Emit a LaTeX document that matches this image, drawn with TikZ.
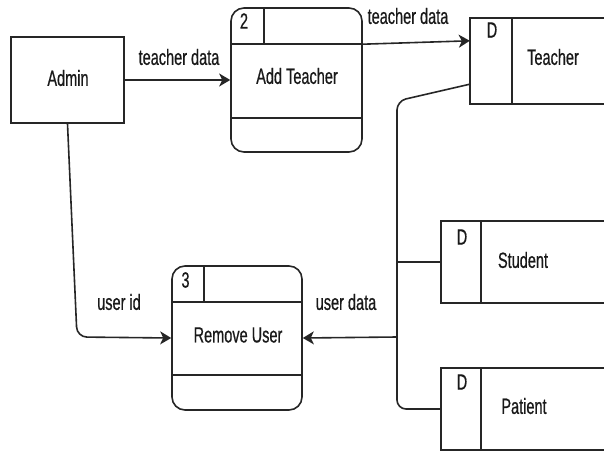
\documentclass[tikz,border=0pt]{standalone}
\usepackage{fontspec}
\setmainfont{Liberation Sans}[FakeStretch=0.66, FakeBold=0.6]
\usetikzlibrary{arrows.meta,calc}

\tikzset{
  every node/.style={font=\fontsize{22}{26}\selectfont, text=black!90},
  line/.style={line width=1.6pt, draw=black!85},
  entity/.style={line, draw, rectangle, minimum width=113pt, minimum height=86pt, inner sep=0pt},
  process/.style={line, draw, rectangle, rounded corners=13pt, minimum width=131pt, minimum height=144pt, inner sep=0pt},
  store/.style={rectangle, draw=none, minimum height=84pt, inner sep=0pt},
  flow/.style={line, -{Stealth[length=11pt, width=13pt, inset=3pt]}},
  link/.style={line},
  lbl/.style={inner sep=0pt, anchor=center}
}

\begin{document}
\begin{tikzpicture}[x=1pt, y=-1pt]
  \useasboundingbox (0,0) rectangle (604,454);

  % external entity
  \node[entity] (admin) at (67.5,80) {};
  \node[lbl] (admintxt) at (68,78) {Admin};

  % process 2: add teacher
  \node[process] (addt) at (296.5,80) {};
  \draw[line] ($(addt.north west)+(0,37)$) -- ($(addt.north east)+(0,37)$);
  \draw[line] ($(addt.south west)+(0,-35)$) -- ($(addt.south east)+(0,-35)$);
  \draw[line] ($(addt.north west)+(34,0)$) -- ($(addt.north west)+(34,37)$);
  \node[lbl] (addtnum) at (244,21) {2};
  \node[lbl] (addttxt) at (297,76) {Add Teacher};

  % process 3: remove user
  \node[process, minimum width=130pt] (remove) at (237,338) {};
  \draw[line] ($(remove.north west)+(0,37)$) -- ($(remove.north east)+(0,37)$);
  \draw[line] ($(remove.south west)+(0,-36)$) -- ($(remove.south east)+(0,-36)$);
  \draw[line] ($(remove.north west)+(33,0)$) -- ($(remove.north west)+(33,37)$);
  \node[lbl] (removenum) at (185.5,280) {3};
  \node[lbl] (removetxt) at (238,335) {Remove User};

  % data stores (open on the right)
  \node[store, minimum width=134pt, minimum height=86pt] (teacher) at (537,61) {};
  \node[store, minimum width=163pt, minimum height=82pt] (student) at (522.5,262) {};
  \node[store, minimum width=163pt, minimum height=82pt] (patient) at (522.5,409) {};
  \foreach \s/\d in {teacher/42, student/40, patient/40} {
    \draw[line] (\s.north east) -- (\s.north west) -- (\s.south west) -- (\s.south east);
    \draw[line] ($(\s.north west)+(\d,0)$) -- ($(\s.south west)+(\d,0)$);
  }
  \node[lbl] (teacherd) at (492,30) {D};
  \node[lbl] (teachertxt) at (553,57) {Teacher};
  \node[lbl] (studentd) at (462,237) {D};
  \node[lbl] (studenttxt) at (523,260) {Student};
  \node[lbl] (patientd) at (462,382) {D};
  \node[lbl] (patienttxt) at (524,406) {Patient};

  % data flows
  \draw[flow] (admin.east) -- (addt.west);
  \node[lbl] (f1) at (179,57) {teacher data};

  \draw[flow] ($(addt.north east)+(0,37)$) -- ($(teacher.north west)+(0,23)$);
  \node[lbl] (f2) at (408,16) {teacher data};

  \coordinate (tout) at ($(teacher.south west)+(0,-20)$);
  \coordinate (bus) at (397,101);
  \coordinate (busend) at (397,409);
  \coordinate (busstudent) at (397,262);
  \coordinate (busremove) at (397,337);
  \draw[link, rounded corners=9pt] (tout) -- (bus) -- (busend) -- (patient.west);
  \draw[link] (busstudent) -- (student.west);
  \draw[flow] (busremove) -- (remove.east);
  \node[lbl] (f3) at (346,302) {user data};

  \coordinate (bendA) at (77,337);
  \draw[flow, rounded corners=10pt] (admin.south) -- (bendA) -- (remove.west);
  \node[lbl] (f4) at (119,302) {user id};
\end{tikzpicture}
\end{document}
